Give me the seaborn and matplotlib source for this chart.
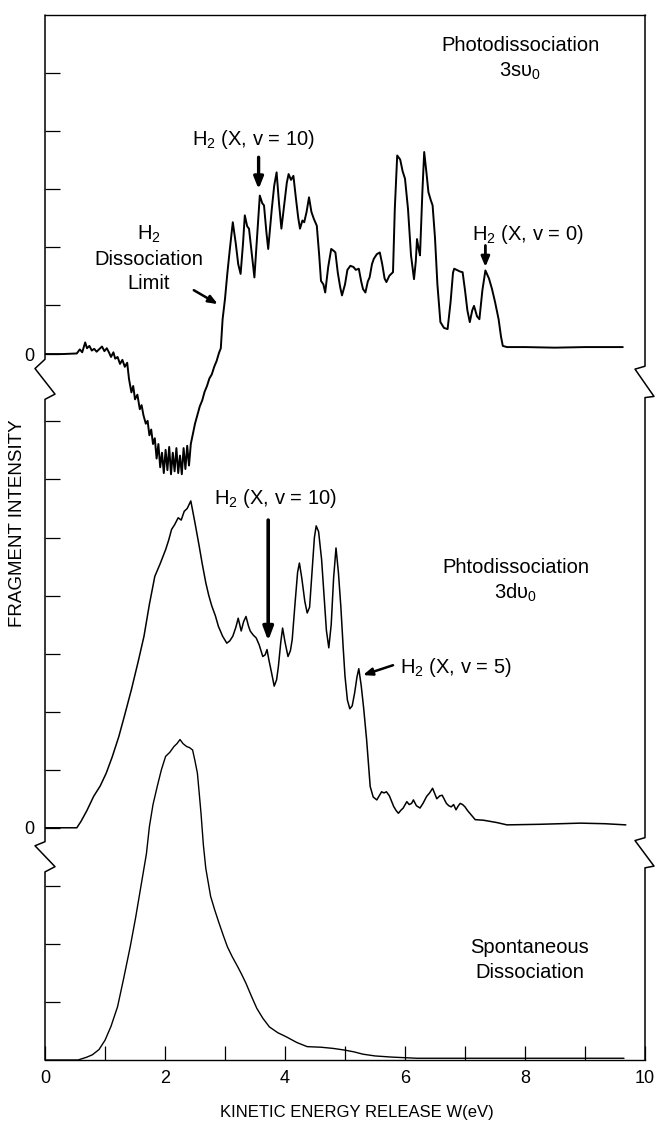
import matplotlib
matplotlib.use("Agg")
import matplotlib.pyplot as plt
import matplotlib.transforms as mtransforms
import numpy as np
import pandas as pd
import seaborn as sns

# ---------------- data ----------------
# Photodissociation 3s v0 (top trace), kinetic energy W (eV) and intensity (tick units)
w_3s = [0.00, 0.30, 0.53, 0.58, 0.62, 0.67, 0.70, 0.74, 0.78, 0.82, 0.86, 0.90, 0.95, 0.99,
        1.03, 1.07, 1.10, 1.14, 1.17, 1.21, 1.25, 1.29, 1.33, 1.37, 1.40, 1.44, 1.47, 1.50,
        1.54, 1.58, 1.61, 1.64, 1.68, 1.71, 1.74, 1.77, 1.80, 1.83, 1.86, 1.89, 1.92, 1.95,
        1.98, 2.01, 2.04, 2.07, 2.10, 2.13, 2.16, 2.19, 2.22, 2.25, 2.28, 2.31, 2.34, 2.37,
        2.40, 2.43, 2.46, 2.50, 2.54, 2.58, 2.62, 2.66, 2.70, 2.74, 2.78, 2.82, 2.86, 2.90,
        2.93, 2.96, 3.00, 3.04, 3.08, 3.13, 3.18, 3.22, 3.26, 3.30, 3.33, 3.37, 3.40, 3.45,
        3.49, 3.54, 3.58, 3.62, 3.65, 3.69, 3.72, 3.78, 3.82, 3.86, 3.90, 3.94, 3.99, 4.03,
        4.06, 4.10, 4.14, 4.18, 4.22, 4.25, 4.29, 4.32, 4.36, 4.40, 4.44, 4.48, 4.53, 4.57,
        4.60, 4.64, 4.67, 4.72, 4.77, 4.81, 4.84, 4.88, 4.92, 4.95, 5.00, 5.04, 5.09, 5.14,
        5.18, 5.23, 5.27, 5.30, 5.34, 5.38, 5.41, 5.45, 5.48, 5.53, 5.58, 5.62, 5.66, 5.69,
        5.74, 5.80, 5.83, 5.87, 5.92, 5.96, 6.00, 6.05, 6.10, 6.15, 6.18, 6.20, 6.23, 6.25,
        6.29, 6.32, 6.36, 6.39, 6.43, 6.46, 6.50, 6.54, 6.59, 6.65, 6.71, 6.76, 6.80, 6.82,
        6.88, 6.92, 6.96, 7.00, 7.04, 7.08, 7.12, 7.15, 7.20, 7.24, 7.29, 7.34, 7.40, 7.45,
        7.50, 7.56, 7.60, 7.63, 7.70, 8.00, 8.50, 9.00, 9.63]
i_3s = [0.00, 0.00, 0.01, 0.08, 0.03, 0.20, 0.10, 0.14, 0.06, 0.09, 0.04, 0.08, 0.13, 0.05,
        0.10, 0.02, -0.05, 0.03, -0.08, -0.05, -0.17, -0.10, -0.22, -0.15, -0.43, -0.66, -0.55, -0.78,
        -0.70, -0.95, -0.88, -1.05, -1.20, -1.15, -1.40, -1.30, -1.55, -1.45, -1.80, -1.55, -1.95, -1.70,
        -2.05, -1.65, -2.00, -1.60, -2.07, -1.70, -2.02, -1.62, -2.05, -1.75, -2.07, -1.62, -1.98, -1.58,
        -1.92, -1.55, -1.40, -1.20, -1.05, -0.90, -0.80, -0.65, -0.55, -0.42, -0.35, -0.22, -0.12, 0.02,
        0.10, 0.60, 0.95, 1.40, 1.80, 2.27, 1.90, 1.55, 1.38, 1.90, 2.39, 2.20, 2.16, 1.70,
        1.32, 2.10, 2.73, 2.60, 2.56, 2.10, 1.81, 2.50, 2.90, 3.13, 2.60, 2.16, 2.60, 2.95,
        3.10, 3.00, 3.07, 2.70, 2.35, 2.16, 2.30, 2.27, 2.45, 2.70, 2.45, 2.33, 2.21, 1.70,
        1.26, 1.20, 1.06, 1.50, 1.81, 1.78, 1.75, 1.40, 1.15, 1.01, 1.20, 1.45, 1.52, 1.50,
        1.45, 1.47, 1.25, 1.12, 1.06, 1.25, 1.32, 1.55, 1.64, 1.72, 1.75, 1.55, 1.30, 1.24,
        1.35, 1.41, 2.50, 3.42, 3.35, 3.15, 3.02, 2.50, 1.70, 1.29, 1.60, 1.98, 1.80, 1.70,
        2.80, 3.48, 3.10, 2.79, 2.65, 2.56, 2.00, 1.20, 0.55, 0.45, 0.43, 0.90, 1.40, 1.47,
        1.44, 1.42, 1.41, 1.10, 0.75, 0.55, 0.75, 0.83, 0.65, 0.60, 1.10, 1.44, 1.30, 1.12,
        0.90, 0.60, 0.30, 0.14, 0.12, 0.12, 0.11, 0.12, 0.12]

# Photodissociation 3d v0 (middle trace)
w_3d = [0.00, 0.53, 0.60, 0.70, 0.81, 0.92, 1.02, 1.12, 1.23, 1.33, 1.44, 1.55, 1.65, 1.74,
        1.83, 1.92, 2.01, 2.06, 2.11, 2.16, 2.22, 2.27, 2.32, 2.37, 2.43, 2.50, 2.57, 2.62,
        2.68, 2.73, 2.78, 2.84, 2.89, 2.96, 3.03, 3.08, 3.13, 3.18, 3.22, 3.27, 3.31, 3.35,
        3.39, 3.42, 3.47, 3.52, 3.57, 3.63, 3.67, 3.70, 3.73, 3.78, 3.82, 3.86, 3.89, 3.93,
        3.96, 4.00, 4.05, 4.09, 4.12, 4.17, 4.21, 4.24, 4.28, 4.33, 4.37, 4.41, 4.45, 4.49,
        4.52, 4.56, 4.61, 4.65, 4.69, 4.73, 4.77, 4.81, 4.85, 4.89, 4.93, 4.97, 5.00, 5.04,
        5.08, 5.12, 5.16, 5.20, 5.23, 5.27, 5.31, 5.36, 5.42, 5.47, 5.53, 5.57, 5.61, 5.65,
        5.69, 5.74, 5.81, 5.85, 5.89, 5.93, 5.97, 6.03, 6.07, 6.11, 6.14, 6.19, 6.25, 6.30,
        6.36, 6.41, 6.46, 6.50, 6.53, 6.58, 6.62, 6.66, 6.69, 6.73, 6.77, 6.81, 6.85, 6.89,
        6.92, 6.96, 7.00, 7.04, 7.08, 7.12, 7.17, 7.31, 7.53, 7.70, 8.25, 8.92, 9.33, 9.68]
i_3d = [0.00, 0.00, 0.11, 0.30, 0.54, 0.72, 0.94, 1.22, 1.57, 1.95, 2.38, 2.85, 3.30, 3.85,
        4.33, 4.55, 4.79, 4.95, 5.14, 5.22, 5.34, 5.30, 5.45, 5.50, 5.63, 5.25, 4.85, 4.55,
        4.22, 4.00, 3.82, 3.65, 3.47, 3.30, 3.18, 3.22, 3.30, 3.45, 3.61, 3.39, 3.55, 3.64,
        3.48, 3.39, 3.32, 3.27, 3.15, 2.95, 2.98, 3.07, 2.90, 2.65, 2.44, 2.55, 2.78, 3.20,
        3.44, 3.20, 2.95, 3.05, 3.24, 3.90, 4.40, 4.56, 4.30, 3.90, 3.70, 3.80, 4.40, 5.00,
        5.20, 5.10, 4.62, 4.00, 3.40, 3.10, 3.50, 4.30, 4.82, 4.40, 3.82, 3.10, 2.61, 2.20,
        2.05, 2.10, 2.32, 2.60, 2.74, 2.45, 2.07, 1.52, 0.71, 0.53, 0.48, 0.55, 0.62, 0.60,
        0.62, 0.55, 0.37, 0.30, 0.25, 0.30, 0.34, 0.45, 0.40, 0.42, 0.48, 0.38, 0.34, 0.42,
        0.54, 0.60, 0.68, 0.58, 0.50, 0.55, 0.56, 0.48, 0.42, 0.38, 0.36, 0.40, 0.31, 0.38,
        0.42, 0.40, 0.36, 0.30, 0.25, 0.20, 0.14, 0.13, 0.09, 0.05, 0.06, 0.08, 0.07, 0.05]

# Spontaneous dissociation (bottom trace)
w_sp = [0.00, 0.55, 0.61, 0.70, 0.79, 0.90, 1.00, 1.10, 1.21, 1.31, 1.42, 1.51, 1.60, 1.69,
        1.74, 1.80, 1.87, 1.94, 2.01, 2.08, 2.15, 2.20, 2.25, 2.30, 2.36, 2.41, 2.46, 2.50,
        2.54, 2.57, 2.60, 2.64, 2.68, 2.76, 2.83, 2.90, 2.97, 3.04, 3.12, 3.21, 3.28, 3.35,
        3.44, 3.53, 3.63, 3.74, 3.88, 4.02, 4.20, 4.37, 4.60, 4.80, 5.00, 5.15, 5.30, 5.50,
        5.78, 6.20, 7.00, 7.60, 8.50, 9.65]
i_sp = [0.00, 0.00, 0.02, 0.05, 0.09, 0.18, 0.34, 0.58, 0.92, 1.40, 1.95, 2.45, 3.00, 3.55,
        4.02, 4.40, 4.71, 5.00, 5.23, 5.30, 5.40, 5.45, 5.52, 5.45, 5.40, 5.38, 5.34, 5.15,
        4.94, 4.60, 4.25, 3.70, 3.30, 2.82, 2.58, 2.36, 2.15, 1.95, 1.78, 1.61, 1.47, 1.32,
        1.10, 0.89, 0.72, 0.57, 0.47, 0.40, 0.30, 0.23, 0.22, 0.20, 0.17, 0.14, 0.10, 0.07,
        0.05, 0.03, 0.03, 0.03, 0.03, 0.03]

x_ticks = [0, 1, 2, 3, 4, 5, 6, 7, 8, 9, 10]
x_tick_labels = ["0", "", "2", "", "4", "", "6", "", "8", "", "10"]
zero_label = "0"

# ---------------- layout constants ----------------
BASE_SP, BASE_3D, BASE_3S = 0.0, 4.0, 12.16   # baselines of the stacked traces
YMAX = 18.0

sns.set_style("white")
plt.rcParams["font.family"] = ["Liberation Sans", "DejaVu Sans"]
plt.rcParams["mathtext.fontset"] = "custom"
plt.rcParams["mathtext.rm"] = "Liberation Sans"
plt.rcParams["mathtext.it"] = "Liberation Sans:italic"
plt.rcParams["mathtext.bf"] = "Liberation Sans:bold"
for key in ["text.color", "axes.labelcolor", "xtick.color", "ytick.color", "axes.edgecolor"]:
    plt.rcParams[key] = "black"

fig = plt.figure(figsize=(6.57, 11.21), dpi=100)
ax = fig.add_axes([45 / 657, 61 / 1121, 600 / 657, 1045 / 1121])

df_sp = pd.DataFrame({"W": w_sp, "I": np.array(i_sp) + BASE_SP})
df_3d = pd.DataFrame({"W": w_3d, "I": np.array(i_3d) + BASE_3D})
df_3s = pd.DataFrame({"W": w_3s, "I": np.array(i_3s) + BASE_3S})

sns.lineplot(data=df_sp, x="W", y="I", ax=ax, color="black", linewidth=1.0,
             estimator=None, sort=False)
sns.lineplot(data=df_3d, x="W", y="I", ax=ax, color="black", linewidth=1.1,
             estimator=None, sort=False)
sns.lineplot(data=df_3s, x="W", y="I", ax=ax, color="black", linewidth=1.4,
             estimator=None, sort=False)

ax.set_xlim(0, 10)
ax.set_ylim(0, YMAX)

# x axis
ax.set_xticks(x_ticks)
ax.set_xticklabels(x_tick_labels, fontsize=13)
ax.tick_params(axis="x", direction="in", length=10, width=0.9, pad=7, bottom=True, top=False,
               colors="black")
ax.set_xlabel("KINETIC ENERGY RELEASE W(eV)", fontsize=12, color="black")
ax.xaxis.set_label_coords(0.52, -0.043)

# y axis ticks
y_ticks = [1, 2, 3, BASE_3D, 5, 6, 7, 8, 9, 10, 11, BASE_3S, 13, 14, 15, 16, 17]
y_labels = ["" for _ in y_ticks]
y_labels[3] = zero_label
y_labels[11] = zero_label
ax.set_yticks(y_ticks)
ax.set_yticklabels(y_labels, fontsize=13)
ax.tick_params(axis="y", direction="in", length=11, width=0.9, pad=8, left=True, right=False,
               colors="black")
ax.set_ylabel("FRAGMENT INTENSITY", fontsize=13.5, va="center", color="black")
ax.yaxis.set_label_coords(-0.045, 0.514)

# spines: keep top/bottom, redraw left/right with break marks
for s in ["top", "bottom"]:
    ax.spines[s].set_color("black")
    ax.spines[s].set_linewidth(1.0)
ax.spines["left"].set_visible(False)
ax.spines["right"].set_visible(False)

trans = mtransforms.blended_transform_factory(ax.transAxes, ax.transData)
d = 10 / 600
lx = [0, 0, d, -d, 0, 0, d, -d, 0, 0]
ly = [0, 3.24, 3.33, 3.69, 3.76, 11.38, 11.47, 11.91, 12.07, YMAX]
ax.plot(lx, ly, transform=trans, color="black", lw=1.1, clip_on=False)
rx = [1, 1, 1 + 0.9 * d, 1 - d, 1, 1, 1 + 0.9 * d, 1 - d, 1, 1]
ry = [0, 3.31, 3.34, 3.78, 3.83, 11.41, 11.43, 11.90, 11.95, YMAX]
ax.plot(rx, ry, transform=trans, color="black", lw=1.1, clip_on=False)

# ---------------- annotations ----------------
fs = 14.5
tc = "black"
ax.text(7.92, 17.47, "Photodissociation", fontsize=fs, ha="center", va="center", color=tc)
ax.text(7.92, 17.03, "3sυ$_0$", fontsize=fs, ha="center", va="center", color=tc)

ax.text(3.48, 15.86, "H$_2$ (X, v = 10)", fontsize=fs, ha="center", va="center", color=tc)
ax.annotate("", xy=(3.56, 15.0), xytext=(3.56, 15.55),
            arrowprops=dict(arrowstyle="-|>,head_width=0.28,head_length=0.7",
                            lw=2.4, color="black", shrinkA=0, shrinkB=0))

ax.text(1.73, 14.22, "H$_2$", fontsize=fs, ha="center", va="center", color=tc)
ax.text(1.73, 13.79, "Dissociation", fontsize=fs, ha="center", va="center", color=tc)
ax.text(1.73, 13.38, "Limit", fontsize=fs, ha="center", va="center", color=tc)
ax.annotate("", xy=(2.88, 13.02), xytext=(2.48, 13.26),
            arrowprops=dict(arrowstyle="-|>,head_width=0.22,head_length=0.55",
                            lw=1.8, color="black", shrinkA=0, shrinkB=0))

ax.text(8.05, 14.22, "H$_2$ (X, v = 0)", fontsize=fs, ha="center", va="center", color=tc)
ax.annotate("", xy=(7.34, 13.66), xytext=(7.34, 14.03),
            arrowprops=dict(arrowstyle="-|>,head_width=0.25,head_length=0.6",
                            lw=2.0, color="black", shrinkA=0, shrinkB=0))

ax.text(3.84, 9.68, "H$_2$ (X, v = 10)", fontsize=fs, ha="center", va="center", color=tc)
ax.annotate("", xy=(3.72, 7.22), xytext=(3.72, 9.3),
            arrowprops=dict(arrowstyle="-|>,head_width=0.3,head_length=0.8",
                            lw=2.6, color="black", shrinkA=0, shrinkB=0))

ax.text(7.84, 8.48, "Phtodissociation", fontsize=fs, ha="center", va="center", color=tc)
ax.text(7.84, 8.05, "3dυ$_0$", fontsize=fs, ha="center", va="center", color=tc)

ax.text(5.92, 6.76, "H$_2$ (X, v = 5)", fontsize=fs, ha="left", va="center", color=tc)
ax.annotate("", xy=(5.30, 6.63), xytext=(5.80, 6.80),
            arrowprops=dict(arrowstyle="-|>,head_width=0.22,head_length=0.55",
                            lw=1.8, color="black", shrinkA=0, shrinkB=0))

ax.text(8.08, 1.93, "Spontaneous", fontsize=fs, ha="center", va="center", color=tc)
ax.text(8.08, 1.50, "Dissociation", fontsize=fs, ha="center", va="center", color=tc)

fig.savefig("out.png", dpi=100, facecolor="white")
